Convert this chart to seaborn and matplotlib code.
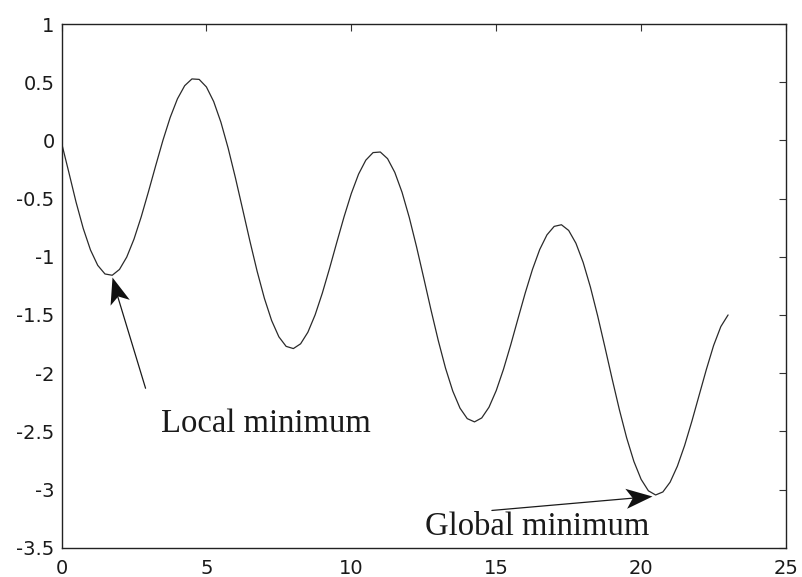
import numpy as np
import pandas as pd
import matplotlib
matplotlib.use("Agg")
import matplotlib.pyplot as plt
from matplotlib.markers import MarkerStyle
from matplotlib.path import Path
from matplotlib.transforms import Affine2D
import seaborn as sns

# Sampled curve y(x)
x_vals = [
    0.00, 0.25, 0.50, 0.75, 1.00, 1.25, 1.50, 1.75, 2.00, 2.25, 2.50, 2.75,
    3.00, 3.25, 3.50, 3.75, 4.00, 4.25, 4.50, 4.75, 5.00, 5.25, 5.50, 5.75,
    6.00, 6.25, 6.50, 6.75, 7.00, 7.25, 7.50, 7.75, 8.00, 8.25, 8.50, 8.75,
    9.00, 9.25, 9.50, 9.75, 10.00, 10.25, 10.50, 10.75, 11.00, 11.25, 11.50, 11.75,
    12.00, 12.25, 12.50, 12.75, 13.00, 13.25, 13.50, 13.75, 14.00, 14.25, 14.50, 14.75,
    15.00, 15.25, 15.50, 15.75, 16.00, 16.25, 16.50, 16.75, 17.00, 17.25, 17.50, 17.75,
    18.00, 18.25, 18.50, 18.75, 19.00, 19.25, 19.50, 19.75, 20.00, 20.25, 20.50, 20.75,
    21.00, 21.25, 21.50, 21.75, 22.00, 22.25, 22.50, 22.75, 23.00,
]
y_vals = [
    -0.020, -0.272, -0.529, -0.757, -0.942, -1.074, -1.148, -1.159, -1.109, -1.003, -0.849, -0.657,
    -0.441, -0.217, 0.001, 0.197, 0.357, 0.470, 0.528, 0.524, 0.459, 0.334, 0.156, -0.067,
    -0.321, -0.592, -0.865, -1.125, -1.357, -1.548, -1.688, -1.770, -1.789, -1.748, -1.649, -1.500,
    -1.312, -1.099, -0.875, -0.656, -0.456, -0.290, -0.170, -0.105, -0.100, -0.157, -0.275, -0.446,
    -0.663, -0.914, -1.184, -1.458, -1.720, -1.957, -2.154, -2.301, -2.391, -2.419, -2.385, -2.293,
    -2.150, -1.967, -1.757, -1.533, -1.312, -1.109, -0.938, -0.812, -0.739, -0.725, -0.774, -0.884,
    -1.049, -1.261, -1.508, -1.776, -2.050, -2.315, -2.556, -2.759, -2.913, -3.011, -3.047, -3.021,
    -2.937, -2.800, -2.622, -2.414, -2.191, -1.969, -1.763, -1.600, -1.500,
]

x_ticks = [0, 5, 10, 15, 20, 25]
y_ticks = [1, 0.5, 0, -0.5, -1, -1.5, -2, -2.5, -3, -3.5]
y_tick_labels = ["1", "0.5", "0", "-0.5", "-1", "-1.5", "-2", "-2.5", "-3", "-3.5"]

# Annotations: label, text anchor, arrow tail, arrow tip
notes = ["Local minimum", "Global minimum"]
note_text_xy = [(3.45, -2.51), (12.55, -3.39)]
arrow_tail_xy = [(2.90, -2.13), (14.85, -3.18)]
arrow_tip_xy = [(1.73, -1.17), (20.37, -3.06)]

sns.set_theme(style="white")
plt.rcParams["font.family"] = ["DejaVu Sans"]

fig = plt.figure(figsize=(8.02, 5.77), dpi=100)
ax = fig.add_axes([0.0767, 0.0508, 0.9034, 0.9076])

df = pd.DataFrame({"x": x_vals, "y": y_vals})
sns.lineplot(data=df, x="x", y="y", ax=ax, color="#2a2a2a", linewidth=0.9,
             estimator=None, sort=False)

ax.set_xlim(0, 25)
ax.set_ylim(-3.5, 1)
ax.set_xticks(x_ticks)
ax.set_xticklabels([str(t) for t in x_ticks])
ax.set_yticks(y_ticks)
ax.set_yticklabels(y_tick_labels)
ax.set_xlabel("")
ax.set_ylabel("")

for s in ax.spines.values():
    s.set_visible(True)
    s.set_color("#222222")
    s.set_linewidth(1.0)

ax.tick_params(axis="both", which="both", direction="in", length=5, width=0.8,
               color="#333333", top=True, right=True, labelsize=14,
               labelcolor="#1a1a1a")
ax.tick_params(axis="y", pad=5)
ax.tick_params(axis="x", pad=8)

# Notched arrowhead marker: tip at the origin, pointing along +x
head_path = Path([(0, 0), (-1, 0.38), (-0.75, 0), (-1, -0.38), (0, 0)],
                 [Path.MOVETO, Path.LINETO, Path.LINETO, Path.LINETO, Path.CLOSEPOLY])

for label, txy, tail, tip in zip(notes, note_text_xy, arrow_tail_xy, arrow_tip_xy):
    ax.text(txy[0], txy[1], label, fontsize=23.5, family=["Liberation Serif", "DejaVu Serif"],
            color="#1a1a1a", ha="left", va="baseline")
    p0 = ax.transData.transform(tail)
    p1 = ax.transData.transform(tip)
    ang = np.degrees(np.arctan2(p1[1] - p0[1], p1[0] - p0[0]))
    ax.annotate("", xy=tip, xytext=tail,
                arrowprops=dict(arrowstyle="-", color="#1a1a1a", lw=0.9,
                                shrinkA=0, shrinkB=8))
    marker = MarkerStyle(head_path, transform=Affine2D().rotate_deg(ang))
    ax.scatter([tip[0]], [tip[1]], marker=marker, s=38 ** 2, color="#111111",
               linewidths=0, zorder=5)

fig.savefig("out.png", dpi=100)
